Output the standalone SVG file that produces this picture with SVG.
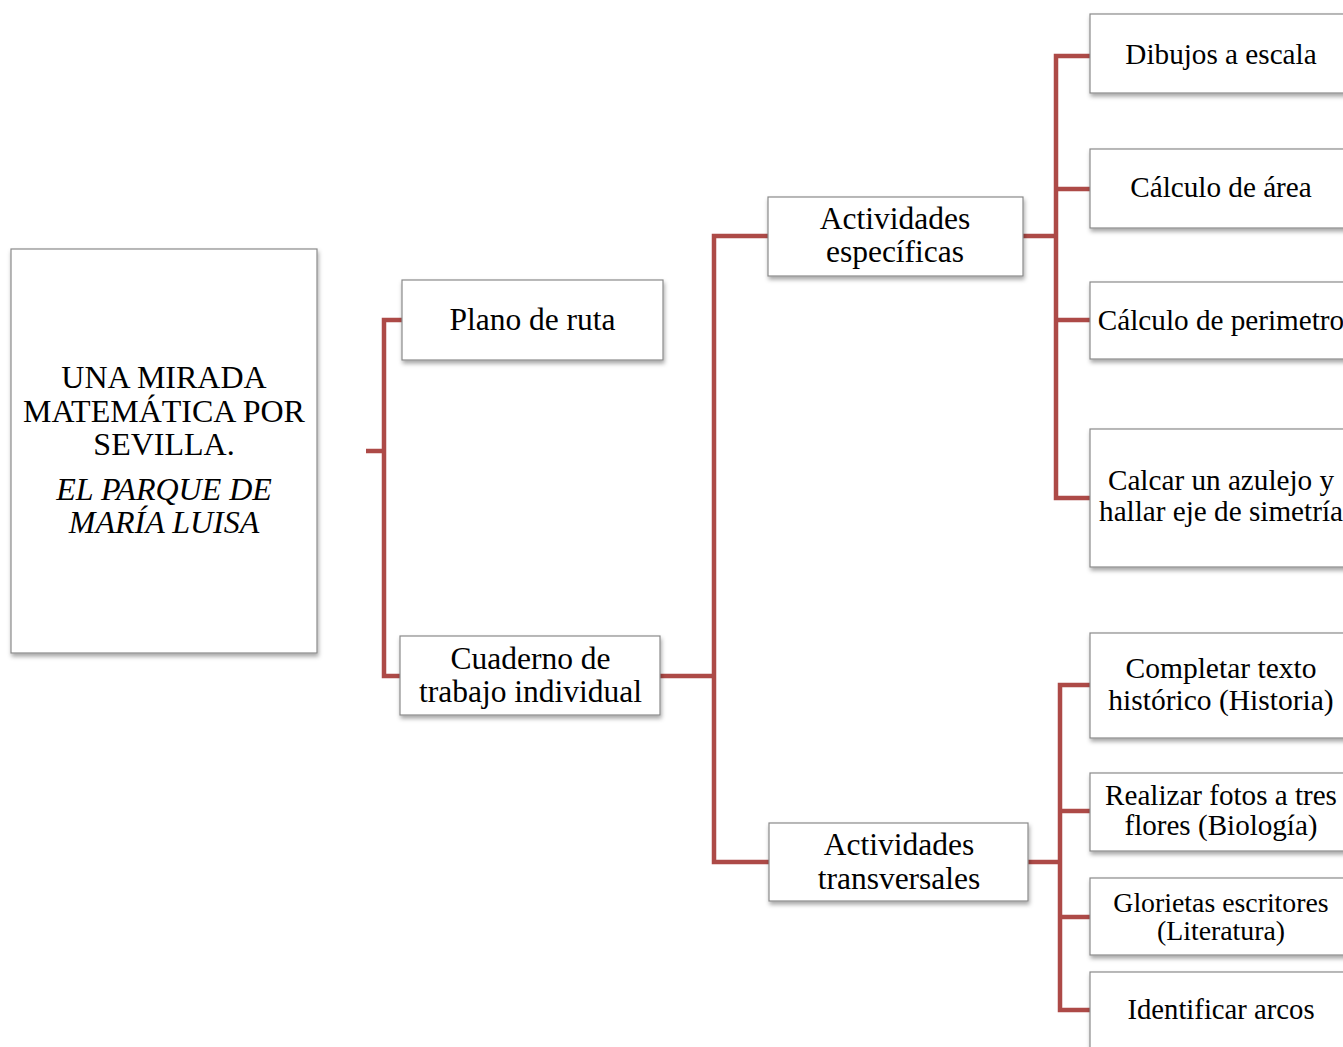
<svg xmlns="http://www.w3.org/2000/svg" width="1343" height="1047" viewBox="0 0 1343 1047">
<defs>
<filter id="sh" x="-10%" y="-10%" width="130%" height="130%">
<feDropShadow dx="1" dy="3" stdDeviation="2" flood-color="#000" flood-opacity="0.35"/>
</filter>
<style>
.box{fill:#fff;stroke:#8a8a8a;stroke-width:1.2;filter:url(#sh)}
.t{font-family:"Liberation Serif","Times New Roman",serif;fill:#000;text-anchor:middle}
.c{fill:none;stroke:#ad4a47;stroke-width:4.5;stroke-linejoin:miter;stroke-linecap:butt}
</style>
</defs>
<rect width="1343" height="1047" fill="#fff"/>
<g id="connectors">
<path class="c" d="M366,451 H384"/>
<path class="c" d="M402,320 H384 V676 H400"/>
<path class="c" d="M660,676 H714"/>
<path class="c" d="M768,236 H714 V862 H769"/>
<path class="c" d="M1023,236 H1056"/>
<path class="c" d="M1090,56 H1056 V498 H1090"/>
<path class="c" d="M1056,189 H1090"/>
<path class="c" d="M1056,320 H1090"/>
<path class="c" d="M1028,862 H1060"/>
<path class="c" d="M1090,685 H1060 V1010 H1090"/>
<path class="c" d="M1060,811 H1090"/>
<path class="c" d="M1060,917 H1090"/>
</g>
<g id="main">
<rect class="box" x="11" y="249" width="306" height="404"/>
<text class="t" font-size="32" x="164" y="388">UNA MIRADA</text>
<text class="t" font-size="32" x="164" y="421.5">MATEMÁTICA POR</text>
<text class="t" font-size="32" x="164" y="455">SEVILLA.</text>
<text class="t" font-size="32" font-style="italic" x="164" y="500">EL PARQUE DE</text>
<text class="t" font-size="32" font-style="italic" x="164" y="533">MARÍA LUISA</text>
</g>
<g id="plano">
<rect class="box" x="402" y="280" width="261" height="80"/>
<text class="t" font-size="31.5" x="532.5" y="330">Plano de ruta</text>
</g>
<g id="cuaderno">
<rect class="box" x="400" y="636" width="260" height="79"/>
<text class="t" font-size="31.5" x="530.5" y="668.5">Cuaderno de</text>
<text class="t" font-size="31.5" x="530.5" y="701.5">trabajo individual</text>
</g>
<g id="especificas">
<rect class="box" x="768" y="197" width="255" height="79"/>
<text class="t" font-size="31.5" x="895" y="228.5">Actividades</text>
<text class="t" font-size="31.5" x="895" y="261.5">específicas</text>
</g>
<g id="transversales">
<rect class="box" x="769" y="823" width="259" height="78"/>
<text class="t" font-size="31.5" x="899" y="855">Actividades</text>
<text class="t" font-size="31.5" x="899" y="888.5">transversales</text>
</g>
<g id="dibujos">
<rect class="box" x="1090" y="14" width="262" height="79"/>
<text class="t" font-size="29.2" x="1221" y="64">Dibujos a escala</text>
</g>
<g id="area">
<rect class="box" x="1090" y="149" width="262" height="79"/>
<text class="t" font-size="29.2" x="1221" y="196.5">Cálculo de área</text>
</g>
<g id="perimetro">
<rect class="box" x="1090" y="282" width="262" height="77"/>
<text class="t" font-size="29.2" x="1221" y="330">Cálculo de perimetro</text>
</g>
<g id="calcar">
<rect class="box" x="1090" y="429" width="262" height="138"/>
<text class="t" font-size="29.2" x="1221" y="490">Calcar un azulejo y</text>
<text class="t" font-size="29.2" x="1221" y="520.5">hallar eje de simetría</text>
</g>
<g id="completar">
<rect class="box" x="1090" y="633" width="262" height="105"/>
<text class="t" font-size="29.5" x="1221" y="677.5">Completar texto</text>
<text class="t" font-size="29.5" x="1221" y="710">histórico (Historia)</text>
</g>
<g id="realizar">
<rect class="box" x="1090" y="773" width="262" height="78"/>
<text class="t" font-size="29.1" x="1221" y="804.5">Realizar fotos a tres</text>
<text class="t" font-size="29.1" x="1221" y="835">flores (Biología)</text>
</g>
<g id="glorietas">
<rect class="box" x="1090" y="878" width="262" height="77"/>
<text class="t" font-size="27.8" x="1221" y="912">Glorietas escritores</text>
<text class="t" font-size="27.8" x="1221" y="940">(Literatura)</text>
</g>
<g id="identificar">
<rect class="box" x="1090" y="972" width="262" height="110"/>
<text class="t" font-size="28.7" x="1221" y="1019">Identificar arcos</text>
</g>
</svg>
